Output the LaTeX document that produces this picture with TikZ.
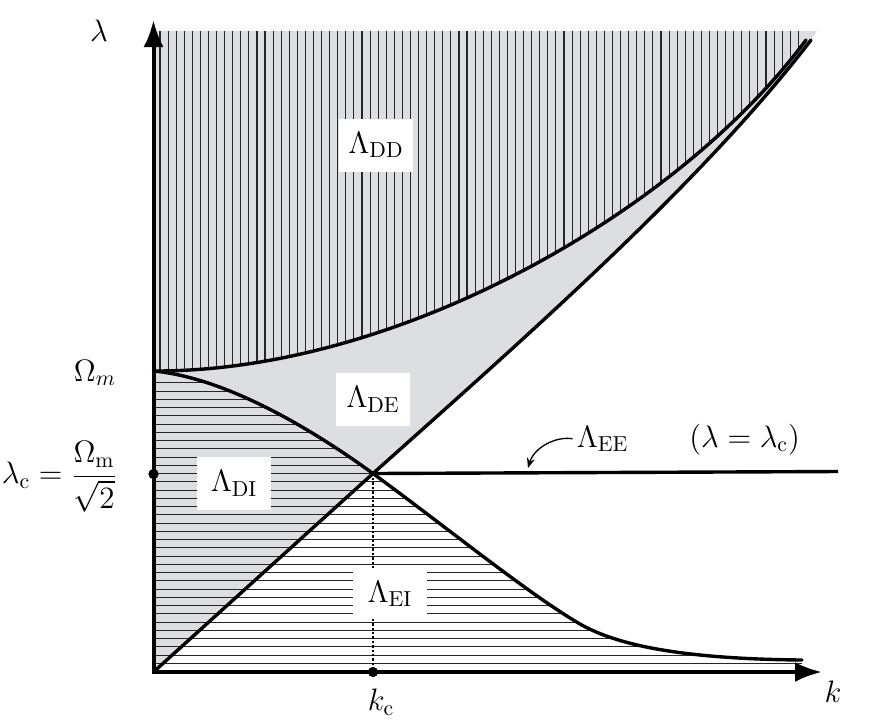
\documentclass[tikz,border=0pt]{standalone}
\usepackage{fix-cm}
\usepackage{amsmath}
\usetikzlibrary{arrows.meta}
\definecolor{regiongray}{RGB}{221,222,225}
\begin{document}
\begin{tikzpicture}[x=0.5pt,y=-0.5pt,
  every node/.style={font=\fontsize{15.5}{18}\selectfont},
  axis/.style={line width=2pt,-{Latex[length=13.5pt,width=10pt]}},
  bound/.style={line width=1.7pt},
  hatch/.style={line width=0.55pt, black!85},
  lab/.style={fill=white, inner sep=0pt, minimum width=37pt, minimum height=26.5pt},
  dot/.style={circle, fill=black, inner sep=0pt, minimum size=5pt},
]
\useasboundingbox (0,0) rectangle (872,719);

% named points
\coordinate (orig) at (153.5,672);
\coordinate (omp) at (153.5,371);
\coordinate (cross) at (373,473.5);
\coordinate (eimid) at (580,624);
\coordinate (eiend) at (802,660);
\coordinate (ddend) at (806,40);
\coordinate (deend) at (811,40);
\coordinate (eeend) at (838,471.5);
\coordinate (eetip) at (528,468);

% grey region
\fill[regiongray] (orig) -- (153.5,31) -- (817,31) -- (deend)
  .. controls (700,185) and (520,342) .. (cross) -- cycle;

% vertical hatching (DD)
\begin{scope}
\clip (153.5,31) -- (omp) .. controls (400,372) and (680,210) .. (ddend) -- (806,31) -- cycle;
\foreach \i in {0,...,79} \draw[hatch] ({160+8.08*\i},30) -- ({160+8.08*\i},380);
\end{scope}

% horizontal hatching (DI, EI)
\begin{scope}
\clip (orig) -- (omp) .. controls (230,378) and (320,435) .. (cross)
  .. controls (450,530) and (530,595) .. (eimid)
  .. controls (620,647) and (690,659) .. (eiend) -- (802,672) -- cycle;
\foreach \i in {0,...,34} \draw[hatch] (150,{663.3-8.25*\i}) -- (810,{663.3-8.25*\i});
\end{scope}

% dotted line to k_c
\node[dot] (kcdot) at (373,672) {};
\node[dot] (lcdot) at (153.5,474) {};
\draw[line width=0.8pt, dash pattern=on 1.2pt off 1pt] (cross) -- (kcdot);

% boundaries
\draw[bound, line cap=round] (omp) .. controls (400,372) and (680,210) .. (ddend);
\draw[bound, line cap=round] (omp) .. controls (230,378) and (320,435) .. (cross)
  .. controls (450,530) and (530,595) .. (eimid)
  .. controls (620,647) and (690,659) .. (eiend);
\draw[bound, line cap=round] (orig) -- (cross) .. controls (520,342) and (700,185) .. (deend);
\draw[bound] (cross) -- (eeend);

% region labels
\node[lab] (dd) at (376,145) {$\Lambda_{\mathrm{DD}}$};
\node[lab] (de) at (373,399.5) {$\Lambda_{\mathrm{DE}}$};
\node[lab] (di) at (234,483.5) {$\Lambda_{\mathrm{DI}}$};
\node[lab, minimum height=24pt] (ei) at (390,594) {$\Lambda_{\mathrm{EI}}$};

% axes
\draw[axis] (153.5,674) -- (153.5,20);
\draw[axis] (151.5,672) -- (822,672);
\node[dot] at (kcdot) {};
\node[dot] at (lcdot) {};

% axis labels
\node (lam) at (99,31) {$\lambda$};
\node (kax) at (833,692) {$k$};
\node[anchor=base east] (om) at (123,381) {$\Omega_m$};
\node[anchor=east] (lcl) at (124,477) {$\lambda_{\mathrm{c}} = \dfrac{\Omega_{\mathrm{m}}}{\sqrt{2}}$};
\node (kcl) at (381,702) {$k_{\mathrm{c}}$};

% Lambda_EE
\node[anchor=base west, inner sep=2pt] (ee) at (572.5,447) {$\Lambda_{\mathrm{EE}}$};
\node[anchor=base west, inner sep=0pt] (eq) at (689,447) {$(\lambda = \lambda_{\mathrm{c}})$};
\draw[line width=0.65pt, -{Stealth[length=5pt,width=4pt]}] (ee.west) .. controls (555,436) and (534,448) .. (eetip);
\end{tikzpicture}
\end{document}
